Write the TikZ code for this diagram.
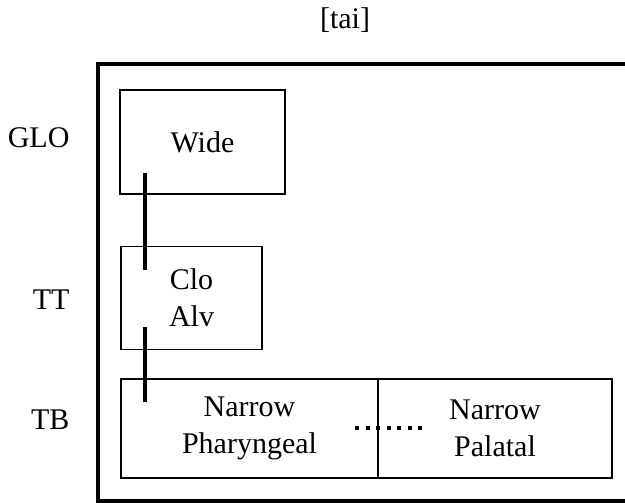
\documentclass[tikz,border=0pt]{standalone}
\usepackage{fontspec}
\setmainfont{Liberation Serif}
\begin{document}
\begin{tikzpicture}[x=1pt,y=-1pt,
  every node/.style={font=\fontsize{30}{37}\selectfont},
  gesture/.style={draw,line width=1.5pt,align=center,inner sep=0pt},
  tier/.style={anchor=base east},
  assoc/.style={line width=4.5pt},
  overlap/.style={line width=4pt,dash pattern=on 4pt off 6.5pt}]
\useasboundingbox (0,0) rectangle (625,503);
\clip (0,0) rectangle (625,503);
\node (title) at (345,20) {[tai]};

% frame, cut off at the right
\draw[line width=4pt] (640,64) -- (98,64) -- (98,501) -- (640,501);

\node[tier] (glo) at (73,147) {GLO};
\node[tier] (tt) at (73,309) {TT};
\node[tier] (tb) at (73,429) {TB};

\node[gesture,minimum width=165pt,minimum height=104pt] (wide) at (202.5,142) {Wide};
\node[gesture,minimum width=141pt,minimum height=103pt] (cloalv) at (191.5,298) {Clo\\Alv};
\node[gesture,minimum width=257pt,minimum height=99pt] (phar) at (249.5,428.5) {Narrow\\Pharyngeal};
\node[gesture,minimum width=234pt,minimum height=99pt] (pal) at (495,428.5) {Narrow\\Palatal};

\coordinate (a1) at (145,173);
\coordinate (a2) at (145,270);
\coordinate (b1) at (145,327);
\coordinate (b2) at (145,402);
\draw[assoc] (a1) -- (a2);
\draw[assoc] (b1) -- (b2);

\coordinate (d1) at (355,428);
\coordinate (d2) at (425,428);
\draw[overlap] (d1) -- (d2);
\end{tikzpicture}
\end{document}
